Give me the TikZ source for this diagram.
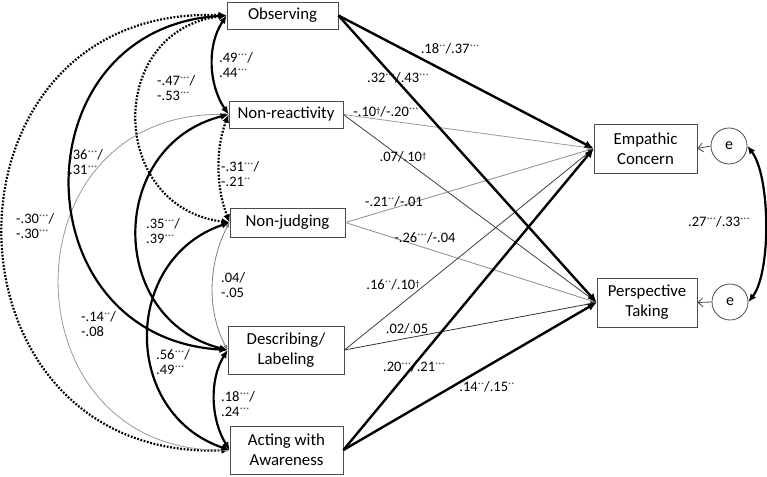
\documentclass[tikz,border=0pt]{standalone}
\usepackage{fontspec}
\setmainfont{Carlito}
\usetikzlibrary{arrows.meta}
\newcommand{\sg}[1]{\raisebox{4.2pt}{\fontsize{6.5}{6.5}\selectfont #1}}
\newcommand{\dg}{\raisebox{3.2pt}{\fontsize{8.5}{8.5}\selectfont †}}
\begin{document}
\begin{tikzpicture}[x=1pt,y=-1pt,
  box/.style={draw=black!70,line width=0.8pt,inner sep=0pt,align=center,font=\fontsize{16.8}{20}\selectfont},
  errc/.style={draw=black!70,line width=0.8pt,circle,minimum size=36pt,inner sep=0pt,font=\fontsize{16}{18}\selectfont},
  lbl/.style={inner sep=0pt,font=\fontsize{14.5}{16}\selectfont},
  llbl/.style={inner sep=0pt,anchor=west,align=left,font=\fontsize{14.5}{15.5}\selectfont},
  covthick/.style={line width=2.2pt,{Latex[length=8pt,width=7pt]}-{Latex[length=8pt,width=7pt]}},
  covdot/.style={line width=2.2pt,dash pattern=on 1.8pt off 1.6pt,{Latex[length=8pt,width=7pt]}-{Latex[length=8pt,width=7pt]}},
  covthin/.style={line width=0.8pt,{Latex[length=5pt,width=4pt]}-{Latex[length=5pt,width=4pt]}},
  paththick/.style={line width=2.4pt,-{Latex[length=9pt,width=8pt]}},
  paththin/.style={line width=0.8pt,-{Latex[length=6pt,width=5pt]}},
  errarr/.style={line width=0.8pt,draw=black!70,-{Straight Barb[length=5pt,width=9pt]}}
]
\useasboundingbox (0,0) rectangle (767,476);
\fill[white] (0,0) rectangle (767,476);

% factor boxes
\node[box,minimum width=111pt,minimum height=27pt] (obs) at (282.5,15.5) {Observing};
\node[box,minimum width=114pt,minimum height=27pt] (nonreact) at (286,114.5) {Non-reactivity};
\node[box,minimum width=115pt,minimum height=29pt] (nonjudge) at (287.5,222.5) {Non-judging};
\node[box,minimum width=116pt,minimum height=48pt] (describe) at (286,350) {Describing/\\Labeling};
\node[box,minimum width=113pt,minimum height=48pt] (acting) at (286.5,450) {Acting with\\Awareness};

% outcome boxes
\node[box,minimum width=103pt,minimum height=49pt] (empathic) at (645.5,148.5) {Empathic\\Concern};
\node[box,minimum width=100pt,minimum height=49pt] (perspective) at (647,302.5) {Perspective\\Taking};
\node[errc] (e1) at (729,146) {e};
\node[errc] (e2) at (730,302) {e};

% error arrows
\draw[errarr] (e1.west) -- (empathic.east);
\draw[errarr] (e2.west) -- (perspective.east);
\draw[covthick] (e1.east) .. controls +(23,30) and +(23,-30) .. (e2.east);
\node[lbl] (l_ee) at (719,222) {.27\sg{***}/.33\sg{***}};

% covariances among facets
\draw[covdot] (obs.west) .. controls +(-300,-12.6) and +(-300,12.6) .. (acting.west);
\draw[covthin,draw=black!40] (nonreact.west) .. controls +(-226.5,-4.7) and +(-226.5,4.7) .. (acting.west);
\draw[covthick] (obs.west) .. controls +(-209,12.4) and +(-209,-12.4) .. (describe.west);
\draw[covdot] (obs.west) .. controls +(-121.4,15.1) and +(-121.4,-15.1) .. (nonjudge.west);
\draw[covthick] (nonreact.west) .. controls +(-121.4,30.7) and +(-121.4,-30.7) .. (describe.west);
\draw[covthick] (nonjudge.west) .. controls +(-108,36.5) and +(-108,-36.5) .. (acting.west);
\draw[covthick] (obs.west) .. controls +(-20,30) and +(-20,-30) .. (nonreact.west);
\draw[covdot] (nonreact.west) .. controls +(-13.3,34.4) and +(-13.3,-34.4) .. (nonjudge.west);
\draw[covthin,draw=black!50] (nonjudge.west) .. controls +(-21.3,39.6) and +(-21.3,-39.6) .. (describe.west);
\draw[covthick] (describe.west) .. controls +(-18.7,30.3) and +(-18.7,-30.3) .. (acting.west);

\node[llbl] (c1) at (219,65) {.49\sg{***}/\\.44\sg{***}};
\node[llbl] (c2) at (157,88) {-.47\sg{***}/\\-.53\sg{***}};
\node[llbl] (c3) at (69,162) {.36\sg{***}/\\.31\sg{***}};
\node[llbl] (c4) at (16,226) {-.30\sg{***}/\\-.30\sg{***}};
\node[llbl] (c5) at (221,174) {-.31\sg{***}/\\-.21\sg{**}};
\node[llbl] (c6) at (146,231) {.35\sg{***}/\\.39\sg{***}};
\node[llbl] (c7) at (221,285) {.04/\\-.05};
\node[llbl] (c8) at (81,324) {-.14\sg{**}/\\-.08};
\node[llbl] (c9) at (156,362) {.56\sg{***}/\\.49\sg{***}};
\node[llbl] (c10) at (221,404) {.18\sg{***}/\\.24\sg{***}};

% regression paths
\draw[paththin,draw=black!40] (nonreact.east) -- (empathic.west);
\draw[paththin,draw=black!75] (nonreact.east) -- (perspective.west);
\draw[paththin,draw=black!45] (nonjudge.east) -- (empathic.west);
\draw[paththin,draw=black!45] (nonjudge.east) -- (perspective.west);
\draw[paththin,draw=black!75] (describe.east) -- (empathic.west);
\draw[paththin,draw=black!80] (describe.east) -- (perspective.west);
\draw[paththick] (obs.east) -- (empathic.west);
\draw[paththick] (obs.east) -- (perspective.west);
\draw[paththick] (acting.east) -- (empathic.west);
\draw[paththick] (acting.east) -- (perspective.west);

\node[lbl] (p1) at (450,49) {.18\sg{**}/.37\sg{***}};
\node[lbl] (p2) at (398,78) {.32\sg{***}/.43\sg{***}};
\node[lbl] (p3) at (386,112) {-.10\dg/-.20\sg{***}};
\node[lbl] (p4) at (403,157) {.07/.10\dg};
\node[lbl] (p5) at (394,202) {-.21\sg{**}/-.01};
\node[lbl] (p6) at (425,238) {-.26\sg{***}/-.04};
\node[lbl] (p7) at (393,285) {.16\sg{**}/.10\dg};
\node[lbl] (p8) at (407,329) {.02/.05};
\node[lbl] (p9) at (414,367) {.20\sg{***}/.21\sg{***}};
\node[lbl] (p10) at (487,387) {.14\sg{**}/.15\sg{**}};
\end{tikzpicture}
\end{document}
